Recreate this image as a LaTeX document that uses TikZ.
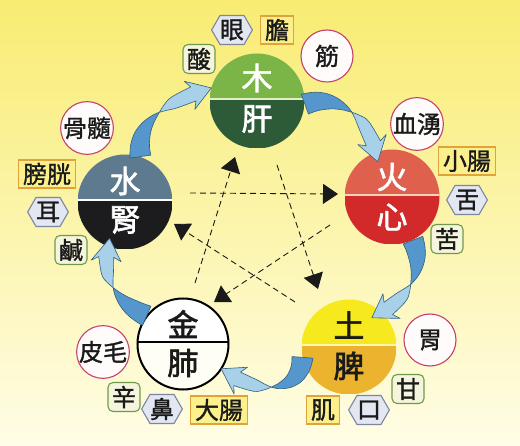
\documentclass[tikz,border=0pt]{standalone}
\usepackage{fontspec}
\newfontfamily\cjk{Noto Sans CJK TC}[FakeBold=1.3]
\newfontfamily\cjkbig{Noto Sans CJK TC}[FakeBold=2]
\usetikzlibrary{calc,arrows.meta,shapes.symbols,decorations.markings}
\definecolor{bgtop}{HTML}{F8EC72}
\definecolor{bgmid}{HTML}{FBF3A6}
\definecolor{bgbot}{HTML}{FFFDE6}
\definecolor{woodtop}{HTML}{7BB447}
\definecolor{woodbot}{HTML}{2D5A37}
\definecolor{wooddiv}{HTML}{E4EFC4}
\definecolor{firetop}{HTML}{E0604E}
\definecolor{firebot}{HTML}{D22A2A}
\definecolor{firediv}{HTML}{F6D2B8}
\definecolor{watertop}{HTML}{5E7A8F}
\definecolor{waterbot}{HTML}{1C1C1E}
\definecolor{earthtop}{HTML}{F6EA1E}
\definecolor{earthbot}{HTML}{ECB42E}
\definecolor{earthdiv}{HTML}{FFF7B0}
\definecolor{metalbot}{HTML}{FFFEF4}
\definecolor{cirdraw}{HTML}{C4406A}
\definecolor{cirfill}{HTML}{FFFBFB}
\definecolor{recdraw}{HTML}{E0A23A}
\definecolor{recfill}{HTML}{FCF08C}
\definecolor{grndraw}{HTML}{6F9A4A}
\definecolor{grnfill}{HTML}{F5F4DC}
\definecolor{hexdraw}{HTML}{7C86A0}
\definecolor{hexfill}{HTML}{E3E7F1}
\definecolor{ribdk}{HTML}{5597CC}
\definecolor{riblt}{HTML}{A8D0E8}
\definecolor{ribln}{HTML}{2F5F80}
\definecolor{inkc}{HTML}{1A1A1A}
\newcommand\ribbonfill[1]{%
  \filldraw[ribdark] plot[smooth,tension=.6] coordinates {(#1l0) (#1l1) (#1l2) (#1l3) (#1l4) (#1m)}
    -- plot[smooth,tension=.6] coordinates {(#1r4) (#1r3) (#1r2) (#1r1) (#1r0)} -- cycle;
  \filldraw[riblight] plot[smooth,tension=.6] coordinates {(#1m) (#1l5) (#1l6) (#1l7)}
    -- (#1bl) -- (#1t) -- (#1br)
    -- plot[smooth,tension=.6] coordinates {(#1r7) (#1r6) (#1r5) (#1m)} -- cycle;
}
\begin{document}
\begin{tikzpicture}[x=1pt,y=-1pt,
  elem/.style n args={3}{circle, minimum size=95pt, inner sep=0pt, outer sep=0pt,
    path picture={
      \fill[#1] (path picture bounding box.north west) rectangle ([yshift=2pt]path picture bounding box.east);
      \fill[#2] ([yshift=2pt]path picture bounding box.west) rectangle (path picture bounding box.south east);
      \draw[#3, line width=2pt] ([yshift=2pt]path picture bounding box.west) -- ([yshift=2pt]path picture bounding box.east);
    }},
  bigc/.style={font=\cjkbig\fontsize{31}{31}\selectfont, inner sep=0pt},
  lab/.style={font=\cjk\fontsize{24}{24}\selectfont, inner sep=0pt, line width=1.1pt, text=inkc},
  cir/.style={lab, circle, draw=cirdraw, fill=cirfill, minimum size=52pt},
  rec/.style={lab, rectangle, draw=recdraw, fill=recfill, minimum height=28pt, inner xsep=4.5pt},
  grn/.style={lab, rectangle, rounded corners=5pt, draw=grndraw, fill=grnfill, minimum width=32pt, minimum height=29pt},
  hexa/.style={lab, signal, signal to=east and west, signal pointer angle=120, draw=hexdraw, fill=hexfill, minimum width=39pt, minimum height=29pt},
  ribdark/.style={fill=ribdk, draw=ribln, line width=0.6pt, line join=round},
  riblight/.style={fill=riblt, draw=ribln, line width=0.6pt, line join=round},
  ribmarks/.style={decorate, decoration={markings,
    mark=at position 0.5pt with {\coordinate (#1l0) at (0pt,10.5pt); \coordinate (#1r0) at (0pt,-10.5pt);},
    mark=at position 0.1 with {\coordinate (#1l1) at (0pt,9.5pt); \coordinate (#1r1) at (0pt,-9.5pt);},
    mark=at position 0.2 with {\coordinate (#1l2) at (0pt,8pt); \coordinate (#1r2) at (0pt,-8pt);},
    mark=at position 0.3 with {\coordinate (#1l3) at (0pt,5.5pt); \coordinate (#1r3) at (0pt,-5.5pt);},
    mark=at position 0.4 with {\coordinate (#1l4) at (0pt,2.5pt); \coordinate (#1r4) at (0pt,-2.5pt);},
    mark=at position 0.47 with {\coordinate (#1m) at (0pt,0pt);},
    mark=at position 0.54 with {\coordinate (#1l5) at (0pt,3pt); \coordinate (#1r5) at (0pt,-3pt);},
    mark=at position 0.63 with {\coordinate (#1l6) at (0pt,6pt); \coordinate (#1r6) at (0pt,-6pt);},
    mark=at position -19pt with {\coordinate (#1l7) at (0pt,7.5pt); \coordinate (#1r7) at (0pt,-7.5pt);
        \coordinate (#1bl) at (-4pt,15pt); \coordinate (#1br) at (-4pt,-15pt);}
  }},
  dasharrow/.style={draw=inkc, line width=0.9pt, dash pattern=on 6pt off 4pt,
    -{Triangle[length=15pt,width=20pt]}}
]
\shade[top color=bgtop, middle color=bgmid, bottom color=bgbot] (0,0) rectangle (520,446);
\useasboundingbox (0,0) rectangle (520,446);

% element circles
\node[elem={woodtop}{woodbot}{wooddiv}] (wood) at (257,101) {};
\node[elem={firetop}{firebot}{firediv}] (fire) at (392,197) {};
\node[elem={watertop}{waterbot}{white}] (water) at (125,202) {};
\node[elem={earthtop}{earthbot}{earthdiv}] (earth) at (349,347) {};
\node[elem={white}{metalbot}{black}, draw=black, line width=2pt, minimum size=91pt] (metal) at (183,344) {};

\node[bigc, text=white] (wood-e) at ($(wood.center)+(0,-23)$) {木};
\node[bigc, text=white] (wood-o) at ($(wood.center)+(0,18)$) {肝};
\node[bigc, text=white] (fire-e) at ($(fire.center)+(0,-20)$) {火};
\node[bigc, text=white] (fire-o) at ($(fire.center)+(0,20)$) {心};
\node[bigc, text=white] (water-e) at ($(water.center)+(0,-21)$) {水};
\node[bigc, text=white] (water-o) at ($(water.center)+(0,18)$) {腎};
\node[bigc, text=inkc] (metal-e) at ($(metal.center)+(0,-20)$) {金};
\node[bigc, text=inkc] (metal-o) at ($(metal.center)+(0,19)$) {肺};
\node[bigc, text=inkc] (earth-e) at ($(earth.center)+(0,-22)$) {土};
\node[bigc, text=inkc] (earth-o) at ($(earth.center)+(0,19)$) {脾};

% small labels
\node[grn] (suan) at (199,59) {酸};
\node[hexa] (yan) at (232,30) {眼};
\node[rec] (dan) at (277,30) {膽};
\node[cir] (jin) at (327,56) {筋};
\node[cir] (xueyong) at (417,124) {血湧};
\node[rec] (xiaochang) at (467,161) {小腸};
\node[hexa] (she) at (467,200) {舌};
\node[grn] (ku) at (447,239) {苦};
\node[cir] (wei) at (430,340) {胃};
\node[grn] (gan) at (408,389) {甘};
\node[hexa] (kou) at (369,410) {口};
\node[rec] (ji) at (323,410) {肌};
\node[cir] (pimao) at (103,352) {皮毛};
\node[grn] (xin) at (124,397) {辛};
\node[hexa] (bi) at (162,409) {鼻};
\node[rec] (dachang) at (219,410) {大腸};
\node[cir] (gusui) at (87,128) {骨髓};
\node[rec] (pangguang) at (47,174) {膀胱};
\node[hexa] (er) at (48,212) {耳};
\node[grn] (xian) at (71,250) {鹹};

% generating cycle (ribbon arrows)
\coordinate (wft) at ($(fire.center)!0.8!(fire.112)$);
\path[ribmarks=wf] (wood.-4) .. controls (338,92) and (372,118) .. (wft);
\ribbonfill{wf}
\coordinate (fet) at ($(earth.center)!0.78!(earth.52)$);
\path[ribmarks=fe] (fire.-64) .. controls (425,270) and (410,300) .. (fet);
\ribbonfill{fe}
\coordinate (emt) at (metal.-33);
\path[ribmarks=em] (earth.192) .. controls (300,395) and (255,395) .. (emt);
\ribbonfill{em}
\coordinate (mwt) at ($(water.center)!0.83!(water.247)$);
\path[ribmarks=mw] (metal.142) .. controls (110,300) and (100,270) .. (mwt);
\ribbonfill{mw}
\coordinate (wwt) at (wood.164);
\path[ribmarks=ww] (water.71) .. controls (135,120) and (170,100) .. (wwt);
\ribbonfill{ww}

% controlling cycle (dashed star)
\coordinate (d1s) at (190,193); \coordinate (d1e) at (338,194);
\coordinate (d2s) at (277,165); \coordinate (d2e) at (318,289);
\coordinate (d3s) at (330,225); \coordinate (d3e) at (214,302);
\coordinate (d4s) at (195,283); \coordinate (d4e) at (235,157);
\coordinate (d5s) at (295,302); \coordinate (d5e) at (174,224);
\draw[dasharrow] (d1s) -- (d1e);
\draw[dasharrow] (d2s) -- (d2e);
\draw[dasharrow] (d3s) -- (d3e);
\draw[dasharrow] (d4s) -- (d4e);
\draw[dasharrow] (d5s) -- (d5e);
\end{tikzpicture}
\end{document}
